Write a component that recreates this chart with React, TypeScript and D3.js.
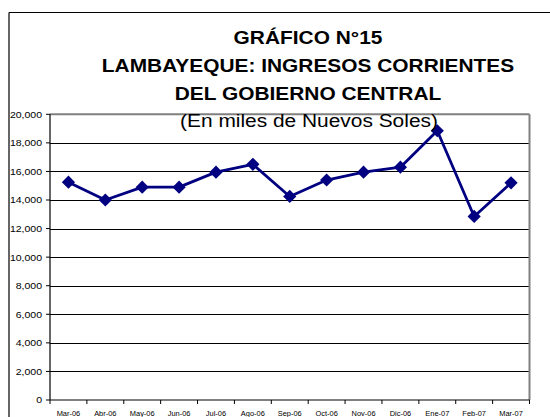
import React from "react";
import * as d3 from "d3";

const categories = ["Mar-06","Abr-06","May-06","Jun-06","Jul-06","Ago-06","Sep-06","Oct-06","Nov-06","Dic-06","Ene-07","Feb-07","Mar-07"];
const values = [15250, 14000, 14900, 14900, 15950, 16500, 14250, 15400, 15950, 16300, 18850, 12850, 15200];
const yTicks = [0, 2000, 4000, 6000, 8000, 10000, 12000, 14000, 16000, 18000, 20000];
const titleLines = ["GRÁFICO N°15", "LAMBAYEQUE: INGRESOS CORRIENTES", "DEL GOBIERNO CENTRAL"];
const subtitle = "(En miles de Nuevos Soles)";

const W = 550, H = 417;
const SX = 1.13;
const FONT = "'Liberation Sans', Arial, sans-serif";

export default function App() {
  const left = 50, right = 529.5, top = 114.3, bottom = 400;
  const x = d3.scalePoint<string>().domain(categories).range([left, right]).padding(0.5);
  const step = x.step();
  const y = d3.scaleLinear().domain([0, 20000]).range([bottom, top]);
  const line = d3.line<number>().x((_, i) => x(categories[i])!).y(d => y(d));
  const fmt = d3.format(",");
  const dr = 6.6;
  const st = (tx: number, ty: number, sx = SX) => `translate(${tx},${ty}) scale(${sx},1)`;
  const titleY = [43.5, 71.8, 100];
  const cx = 308;

  return (
    <svg width={W} height={H} style={{ position: "absolute", left: 0, top: 0, background: "#fff" }}>
      <rect x={0} y={0} width={W} height={H} fill="#fff" />
      {/* outer frame */}
      <line x1={9} y1={12.5} x2={W} y2={12.5} stroke="#000" strokeWidth={1.2} />
      <line x1={9} y1={12.5} x2={9} y2={H} stroke="#000" strokeWidth={1.2} />

      {/* gridlines */}
      {yTicks.filter(t => t > 0 && t < 20000).map(t => (
        <line key={t} x1={left} x2={right} y1={Math.round(y(t)) + 0.5} y2={Math.round(y(t)) + 0.5} stroke="#000" strokeWidth={1} />
      ))}
      {/* plot border top/right gray */}
      <line x1={left} x2={right} y1={top} y2={top} stroke="#808080" strokeWidth={2} />
      <line x1={right} x2={right} y1={top} y2={bottom} stroke="#808080" strokeWidth={2} />
      {/* axes */}
      <line x1={left} x2={left} y1={top} y2={bottom} stroke="#000" strokeWidth={1.2} />
      <line x1={left} x2={right} y1={bottom} y2={bottom} stroke="#000" strokeWidth={1.2} />
      {yTicks.map(t => (
        <g key={t}>
          <line x1={left - 4} x2={left} y1={y(t)} y2={y(t)} stroke="#000" strokeWidth={1} />
          <text transform={st(42, y(t) + 3.4)} textAnchor="end" fontFamily={FONT} fontSize={9.3} fill="#000">{fmt(t)}</text>
        </g>
      ))}
      {d3.range(categories.length + 1).map(i => (
        <line key={i} x1={left + step * i} x2={left + step * i} y1={bottom} y2={bottom + 4} stroke="#000" strokeWidth={1} />
      ))}
      {categories.map(c => (
        <text key={c} transform={st(x(c)!, 415.5)} textAnchor="middle" fontFamily={FONT} fontSize={6.6} fill="#000">{c}</text>
      ))}

      {/* series */}
      <path d={line(values)!} fill="none" stroke="#000080" strokeWidth={2.8} strokeLinejoin="round" />
      {values.map((v, i) => {
        const px = x(categories[i])!, py = y(v);
        return <path key={i} d={`M${px},${py - dr}L${px + dr},${py}L${px},${py + dr}L${px - dr},${py}Z`} fill="#000080" />;
      })}

      {/* titles */}
      {titleLines.map((t, i) => (
        <text key={i} transform={st(cx, titleY[i])} textAnchor="middle" fontFamily={FONT} fontWeight="bold" fontSize={18.5} fill="#000">{t}</text>
      ))}
      <text transform={st(cx + 1, 126.7, 1.1)} textAnchor="middle" fontFamily={FONT} fontSize={19} fill="#000">{subtitle}</text>
    </svg>
  );
}
